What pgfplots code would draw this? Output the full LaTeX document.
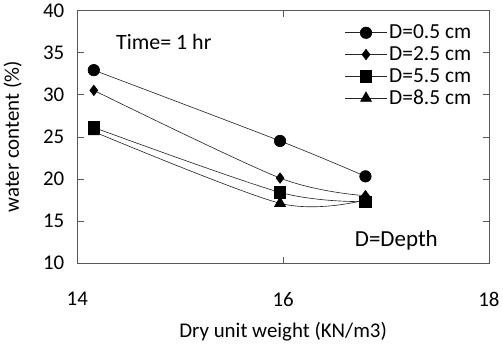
\documentclass[border=0pt]{standalone}
\usepackage{pgfplots}
\pgfplotsset{compat=1.18}
\usepackage{fontspec}
\setmainfont{Carlito}
\begin{document}
\begin{tikzpicture}
\begin{axis}[
  scale only axis,
  width=394pt, height=242pt,
  xmin=14, xmax=18, ymin=10, ymax=40,
  xtick={14,16,18}, ytick={10,15,20,25,30,35,40},
  tick align=inside,
  major tick length=6pt,
  axis line style={gray!70!black},
  tick style={gray!70!black},
  /pgf/number format/assume math mode=true,
  ticklabel style={font=\fontsize{20}{20}\selectfont},
  xticklabel style={yshift=-24pt},
  yticklabel style={xshift=-9pt},
  xlabel={Dry unit weight (KN/m3)},
  ylabel={water content (\%)},
  label style={font=\fontsize{20}{20}\selectfont},
  xlabel style={at={(axis description cs:0.5,0)}, anchor=center, yshift=-66pt},
  ylabel style={at={(axis description cs:0,0.5)}, anchor=center, yshift=62pt},
  legend style={draw=none, fill=none, at={(0.965,0.955)}, anchor=north east,
    font=\fontsize{20.5}{20.5}\selectfont, row sep=2pt, inner sep=1pt,
    /tikz/every even column/.append style={column sep=2pt}},
  legend image code/.code={
    \draw[mark repeat=2,mark phase=2,#1] plot coordinates {(0cm,0cm) (0.7cm,0cm) (1.4cm,0cm)};},
  every axis plot/.append style={black!85, line width=0.6pt, smooth, tension=0.5},
]
\addplot[mark=*, mark size=5.5pt, mark options={fill=black, draw=black}] coordinates {(14.16,32.9) (15.97,24.5) (16.8,20.3)};
\addlegendentry{D=0.5 cm}
\addplot[mark=diamond*, mark size=5pt, mark options={fill=black, draw=black}] coordinates {(14.16,30.5) (15.97,20.1) (16.8,18.0)};
\addlegendentry{D=2.5 cm}
\addplot[mark=square*, mark size=5.5pt, mark options={fill=black, draw=black}] coordinates {(14.16,26.1) (15.97,18.4) (16.8,17.3)};
\addlegendentry{D=5.5 cm}
\addplot[mark=triangle*, mark size=6pt, mark options={fill=black, draw=black}] coordinates {(14.16,25.6) (15.97,17.1) (16.8,17.5)};
\addlegendentry{D=8.5 cm}
\node[font=\fontsize{21}{21}\selectfont] at (axis cs:14.84,36.3) {Time= 1 hr};
\node[font=\fontsize{22}{22}\selectfont] at (axis cs:17.1,12.7) {D=Depth};
\end{axis}
\end{tikzpicture}
\end{document}
